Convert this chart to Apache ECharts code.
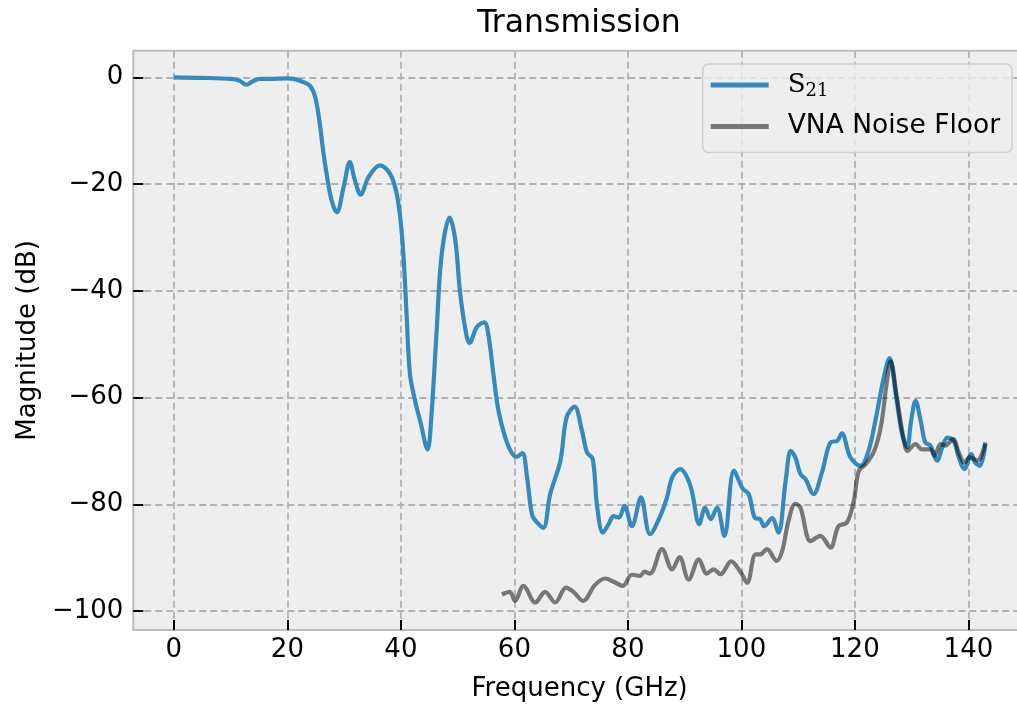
<!DOCTYPE html>
<html>
<head>
<meta charset="utf-8">
<script src="https://cdn.jsdelivr.net/npm/echarts@6/dist/echarts.min.js"></script>
<style>
html,body{margin:0;padding:0;background:#fff;overflow:hidden;width:1017px;height:709px;}
#chart{width:1100px;height:709px;}
</style>
</head>
<body>
<div id="chart"></div>
<script>
// ---- data ----
var s21Freq = [0,5,10,11.5,12.8,14,15.2,17,19.9,21.5,22.8,24,24.9,25.7,26.3,26.9,27.8,28.7,29.9,31.0,31.9,32.9,34.3,36.3,38.1,39.3,40.1,40.6,41.0,41.6,42.5,43.4,44.7,45.4,46.3,47.2,48.6,49.6,50.4,51.3,52.1,53.4,54.7,55.4,56.3,57.2,58.4,59.5,60.4,61.4,62.2,63.1,64.0,65.1,66.3,68.1,69.2,70.6,71.9,72.8,73.8,74.6,75.6,76.6,77.5,78.4,79.4,80.7,82.3,83.9,85.7,86.9,87.8,89.2,91.0,92.6,93.6,94.6,95.7,97.0,98.7,100.2,101.3,102.4,103.3,104.0,105.4,106.5,107.8,108.7,109.5,110.4,111.3,112.7,114.2,115.7,116.9,117.7,119.2,121.0,122.4,123.6,125.1,126.1,127.2,128.3,129.2,129.9,130.7,131.6,132.4,133.3,134.5,135.4,136.3,137.4,138.3,139.3,140.5,141.2,142.0,143.0];
var s21Mag = [0,-0.1,-0.3,-0.6,-1.4,-0.7,-0.3,-0.3,-0.2,-0.4,-0.9,-1.6,-3.7,-8.6,-13.7,-18,-23.1,-25.3,-20.6,-15.9,-19.3,-22.0,-18.7,-16.5,-18.1,-22,-28.5,-36,-44.3,-55.6,-60.6,-64.4,-69.7,-63.1,-47.5,-33.1,-26.3,-30.6,-40,-46.8,-49.8,-46.8,-45.9,-48.1,-55.6,-62.5,-67.5,-70.3,-71.1,-70.4,-74.6,-81.9,-83.4,-84.4,-78.1,-71.9,-63.7,-61.7,-66.2,-70.3,-71.5,-80.6,-85.3,-83.7,-82.2,-82.5,-80.3,-84.1,-78.7,-85.6,-82.2,-78.7,-75,-73.4,-76.5,-83.7,-80.6,-82.8,-80.6,-85.9,-73.7,-77.0,-78.1,-82.6,-82.8,-84.1,-82.6,-85.3,-75.6,-70,-71.2,-74.3,-75.3,-78.1,-74,-68.4,-68.1,-66.7,-71.2,-72.8,-70,-64.4,-56.2,-52.6,-59.3,-66.8,-69.3,-64.4,-60.6,-64.4,-68.4,-69,-71.8,-69.3,-67.5,-68.1,-71.2,-73.4,-70.6,-72.2,-72.8,-68.7];

var noiseFreq = [57.8,59.2,60.1,61.6,63.7,65.4,67.2,69.1,70.4,72.1,74.2,76.0,77.5,79.1,80.7,82.2,82.9,83.9,86.0,87.8,89.1,90.7,92.5,93.9,95.1,96.3,98.2,99.8,101.0,102.5,103.3,104.5,106.2,107.2,108.3,109.5,110.4,112.2,113.9,115.7,117.1,118.6,119.8,120.7,121.9,123.4,124.6,125.5,126.3,127.4,128.5,129.3,130.7,131.8,133.3,134.0,135.1,135.9,137.3,138.3,139.3,140.2,141.6,143.0];
var noiseMag = [-96.9,-96.4,-98.1,-95.3,-98.4,-96.4,-98.4,-95.6,-96.4,-98.1,-95.1,-93.9,-94.5,-95.3,-93.2,-93.4,-92.6,-93,-88.4,-92.2,-89.9,-94.1,-90.3,-93,-92.2,-93.1,-90.7,-92.6,-94.7,-89.4,-89.4,-88.4,-90.6,-88.7,-83.1,-79.9,-80.6,-86.9,-85.9,-88.1,-84.1,-83.4,-79.4,-73.7,-72.5,-70,-65.3,-58.1,-53.2,-60,-67.2,-70,-68.7,-69.7,-69.7,-70.9,-68.7,-69,-67.8,-70.3,-72.2,-71.2,-71.8,-68.4];

var xTicks = [0,20,40,60,80,100,120,140];
var yTicks = [-100,-80,-60,-40,-20,0];

function pairs(xs, ys){ var out=[]; for(var i=0;i<xs.length;i++){ out.push([xs[i], ys[i]]); } return out; }
function fmt(v){ return v < 0 ? '\u2212' + Math.abs(v) : String(v); }

var FONT = 'DejaVu Sans';
var chart = echarts.init(document.getElementById('chart'), null, {renderer:'canvas'});
var gridLine = {show:true, lineStyle:{color:'#b2b2b2', width:1.8, type:[7,4]}};
chart.setOption({
  animation:false,
  backgroundColor:'#ffffff',
  title:{
    text:'Transmission', left:574, top:3, textAlign:'center',
    textStyle:{fontFamily:FONT, fontSize:31.5, fontWeight:'normal', color:'#000'}
  },
  grid:{left:133.3, top:50.7, width:892.7, height:579.3, show:true, backgroundColor:'#eeeeee', borderColor:'#bcbcbc', borderWidth:2, containLabel:false},
  xAxis:{
    type:'value', min:-7.15, max:150.15,
    name:'Frequency (GHz)', nameLocation:'middle', nameGap:46,
    nameTextStyle:{fontFamily:FONT, fontSize:26, color:'#000'},
    axisLine:{show:false, onZero:false},
    axisTick:{show:true, inside:true, length:10, lineStyle:{color:'#000', width:2}, customValues:xTicks},
    axisLabel:{fontFamily:FONT, fontSize:26, color:'#000', margin:7, formatter:fmt, customValues:xTicks},
    splitLine:gridLine
  },
  yAxis:{
    type:'value', min:-103.55, max:4.98,
    name:'Magnitude (dB)', nameLocation:'middle', nameGap:92,
    nameTextStyle:{fontFamily:FONT, fontSize:26, color:'#000'},
    axisLine:{show:false, onZero:false},
    axisTick:{show:true, inside:true, length:10, lineStyle:{color:'#000', width:2}, customValues:yTicks},
    axisLabel:{fontFamily:FONT, fontSize:26, color:'#000', margin:10, formatter:fmt, customValues:yTicks},
    splitLine:gridLine
  },
  legend:{
    orient:'vertical', left:702.7, top:64,
    padding:[6,12,11,8], itemGap:11.5, itemWidth:58, itemHeight:5, icon:'rect',
    backgroundColor:'rgba(238,238,238,0.8)', borderColor:'#cfcfcf', borderWidth:1.5, borderRadius:6,
    data:['S21','VNA Noise Floor'],
    formatter:function(name){ return name === 'S21' ? '{s|S}{sub|21}' : name; },
    textStyle:{fontFamily:FONT, fontSize:26.5, color:'#000', lineHeight:30, padding:[0,0,0,14],
      rich:{
        s:{fontFamily:'DejaVu Serif', fontSize:26, lineHeight:30, color:'#000'},
        sub:{fontFamily:'DejaVu Serif', fontSize:18, lineHeight:17, verticalAlign:'bottom', color:'#000'}
      }
    }
  },
  series:[
    {name:'S21', type:'line', data:pairs(s21Freq, s21Mag), showSymbol:false, symbol:'none', smooth:0.35,
     color:'#348ABD', lineStyle:{color:'#348ABD', width:4.2}, z:2},
    {name:'VNA Noise Floor', type:'line', data:pairs(noiseFreq, noiseMag), showSymbol:false, symbol:'none', smooth:0.35,
     color:'rgba(0,0,0,0.5)', lineStyle:{color:'rgba(0,0,0,0.5)', width:4.2}, z:3}
  ]
});
</script>
</body>
</html>
